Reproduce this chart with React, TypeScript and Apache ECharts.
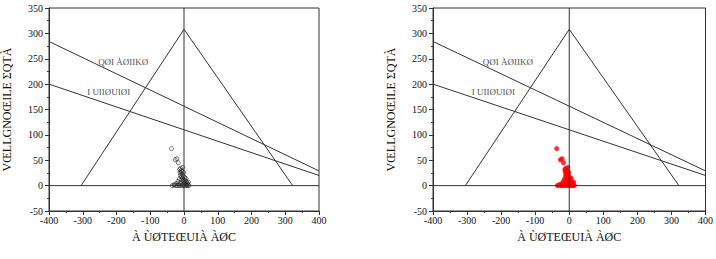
import React, { useEffect, useRef } from "react";
import * as echarts from "echarts";

// axis ranges / ticks
const xTicks = [-400, -300, -200, -100, 0, 100, 200, 300, 400];
const yTicks = [-50, 0, 50, 100, 150, 200, 250, 300, 350];

// reference lines
const verticalLine = [[0, -50], [0, 350]];
const zeroLine = [[-400, 0], [400, 0]];
const triangle = [[-305, 0], [0, 308], [322, 0]];
const upperLine = [[-400, 284], [400, 29]];
const lowerLine = [[-400, 200], [400, 20]];

// annotations (as rendered in the reference)
const upperLabel = { value: [-180, 244], text: "QØI ÀØIIKØ" };
const lowerLabel = { value: [-223, 185], text: "I UIIØUIØI" };
const xTitle = "À ÙØTEŒUIÀ ÀØC";
const yTitle = "VŒLLGNOŒILE ΣQTÀ";

// samples
const samples = [
  [-37, 73], [-26, 51], [-17, 45], [-21, 53],
  [-13, 32], [-10, 34], [-8, 30], [-12, 27], [-6, 28], [-9, 24], [-4, 22],
  [-11, 20], [-7, 18], [-2, 19], [-5, 15], [2, 16], [-14, 13], [-8, 12],
  [0, 12], [4, 10], [-3, 9], [-18, 8], [7, 8], [-10, 6], [1, 5], [10, 5],
  [-22, 4], [-6, 3], [5, 3], [12, 2], [-30, 1], [-25, 0], [-35, 0], [-20, 0],
  [-15, 0], [-10, 0], [-5, 0], [0, 0], [5, 0], [10, 0], [15, 0], [-28, 2],
  [8, 1], [-2, 1], [3, 6], [-16, 3], [-4, 36], [-1, 26], [6, 14], [13, 7],
];

const FONT = "Liberation Serif";

export default function App() {
  const ref = useRef<HTMLDivElement>(null);
  useEffect(() => {
    document.body.style.margin = "0";
    const chart = echarts.init(ref.current!, undefined, { renderer: "svg" });
    const lineColor = "#333";
    const gridLefts = [39, 433];

    const xAxis = gridLefts.map((_, i) => ({
      type: "value" as const,
      gridIndex: i,
      min: xTicks[0],
      max: xTicks[xTicks.length - 1],
      interval: 100,
      name: xTitle,
      nameLocation: "middle" as const,
      nameGap: 20,
      nameTextStyle: { fontFamily: FONT, fontSize: 12, color: "#111" },
      axisLine: { onZero: false, lineStyle: { color: lineColor } },
      axisTick: { show: true, inside: false, length: 4, lineStyle: { color: lineColor } },
      minorTick: { show: true, splitNumber: 2, length: 2, lineStyle: { color: lineColor } },
      splitLine: { show: false },
      axisLabel: { fontFamily: FONT, fontSize: 10, color: "#111", margin: 4 },
    }));
    const yAxis = gridLefts.map((_, i) => ({
      type: "value" as const,
      gridIndex: i,
      min: yTicks[0],
      max: yTicks[yTicks.length - 1],
      interval: 50,
      name: yTitle,
      nameLocation: "middle" as const,
      nameGap: 36,
      nameTextStyle: { fontFamily: FONT, fontSize: 12, color: "#111" },
      axisLine: { onZero: false, lineStyle: { color: lineColor } },
      axisTick: { show: true, inside: false, length: 4, lineStyle: { color: lineColor } },
      minorTick: { show: true, splitNumber: 2, length: 2, lineStyle: { color: lineColor } },
      splitLine: { show: false },
      axisLabel: { fontFamily: FONT, fontSize: 10, color: "#111", margin: 6 },
    }));

    const series: any[] = [];
    gridLefts.forEach((_, i) => {
      const mkLine = (data: number[][]) => ({
        type: "line",
        xAxisIndex: i,
        yAxisIndex: i,
        data,
        showSymbol: false,
        symbol: "none",
        silent: true,
        lineStyle: { color: lineColor, width: 1 },
      });
      series.push(mkLine(verticalLine));
      series.push(mkLine(zeroLine));
      series.push(mkLine(triangle));
      series.push(mkLine(upperLine));
      series.push(mkLine(lowerLine));
      series.push({
        type: "scatter",
        xAxisIndex: i,
        yAxisIndex: i,
        symbolSize: 0,
        silent: true,
        data: [upperLabel, lowerLabel].map((l) => ({ value: l.value, name: l.text })),
        label: {
          show: true,
          position: "inside",
          formatter: (p: any) => p.name,
          fontFamily: FONT,
          fontSize: 9,
          color: "#111",
        },
      });
      series.push({
        type: "scatter",
        xAxisIndex: i,
        yAxisIndex: i,
        data: samples,
        symbol: "circle",
        symbolSize: i === 0 ? 4 : 5,
        itemStyle:
          i === 0
            ? { color: "rgba(255,255,255,0)", borderColor: "#222", borderWidth: 0.8 }
            : { color: "#ff0000", borderWidth: 0 },
      });
    });

    chart.setOption({
      animation: false,
      backgroundColor: "#fff",
      grid: gridLefts.map((left) => ({
        left,
        top: 8,
        width: 280,
        height: 203,
        show: true,
        borderColor: lineColor,
        borderWidth: 1,
        backgroundColor: "transparent",
      })),
      xAxis,
      yAxis,
      series,
    });
    return () => chart.dispose();
  }, []);
  return <div ref={ref} style={{ width: 716, height: 259 }} />;
}
